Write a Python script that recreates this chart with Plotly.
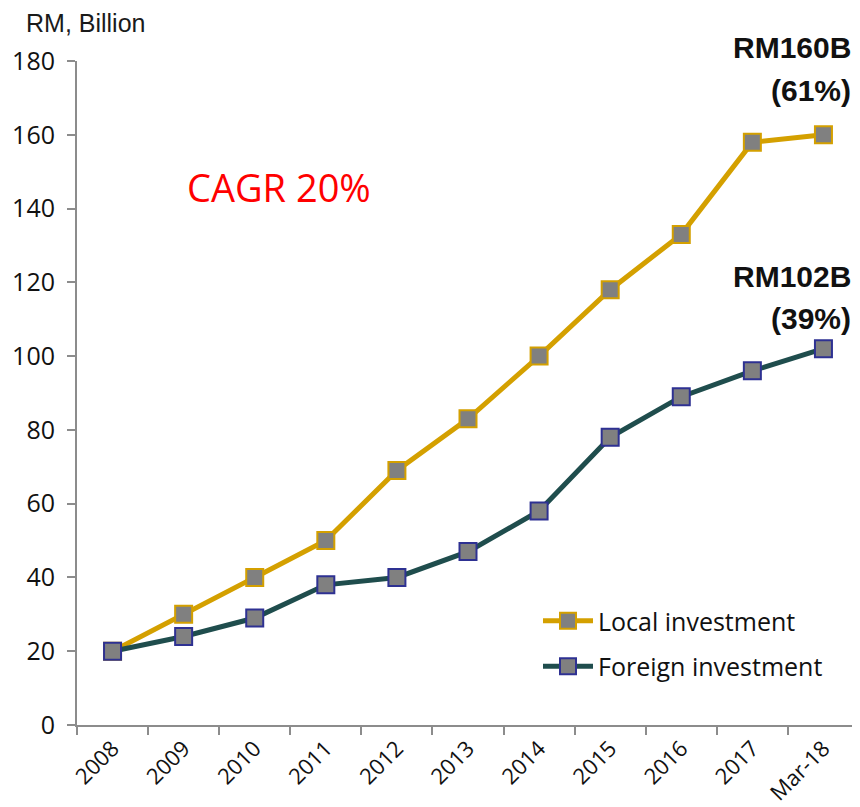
import plotly.graph_objects as go

categories = ["2008", "2009", "2010", "2011", "2012", "2013", "2014", "2015", "2016", "2017", "Mar-18"]
local_investment = [20, 30, 40, 50, 69, 83, 100, 118, 133, 158, 160]
foreign_investment = [20, 24, 29, 38, 40, 47, 58, 78, 89, 96, 102]
y_ticks = [0, 20, 40, 60, 80, 100, 120, 140, 160, 180]

GOLD = "#D4A000"
TEAL = "#1F4D4D"
NAVY = "#2E3192"
GRAY = "#808080"
AXIS = "#8C8C8C"

fig = go.Figure()
fig.add_trace(go.Scatter(
    x=categories, y=local_investment, name="Local investment", mode="lines+markers",
    legendgroup="local",
    line=dict(color=GOLD, width=5),
    marker=dict(symbol="square", size=17, color=GRAY, line=dict(color=GOLD, width=2)),
))
fig.add_trace(go.Scatter(
    x=categories, y=foreign_investment, name="Foreign investment", mode="lines+markers",
    legendgroup="foreign",
    line=dict(color=TEAL, width=5),
    marker=dict(symbol="square", size=17, color=GRAY, line=dict(color=NAVY, width=2)),
))

# page offset from default body margin
OFF = 8
# desired plot area in screen pixels
X0, X1, Y0, Y1 = 77, 859, 61, 725
W, H = 860 - OFF, 807 - OFF
L, R, T, B = X0 - OFF, 860 - X1, Y0 - OFF, 807 - Y1
pw, ph = X1 - X0, Y1 - Y0

def px(x):
    return (x - X0) / pw

def py(y):
    return (Y1 - y) / ph

annotations = [
    dict(text="RM, Billion", x=px(24), y=py(23), xanchor="left", yanchor="middle",
         font=dict(family="Liberation Sans, Arial", size=25, color="#1a1a1a")),
    dict(text="<b>RM160B</b>", x=px(853), y=py(48), xanchor="right", yanchor="middle",
         font=dict(family="Liberation Sans, Arial", size=30, color="#111")),
    dict(text="<b>(61%)</b>", x=px(853), y=py(90), xanchor="right", yanchor="middle",
         font=dict(family="Liberation Sans, Arial", size=30, color="#111")),
    dict(text="<b>RM102B</b>", x=px(853), y=py(276), xanchor="right", yanchor="middle",
         font=dict(family="Liberation Sans, Arial", size=30, color="#111")),
    dict(text="<b>(39%)</b>", x=px(853), y=py(318), xanchor="right", yanchor="middle",
         font=dict(family="Liberation Sans, Arial", size=30, color="#111")),
    dict(text="CAGR 20%", x=px(279), y=py(187), xanchor="center", yanchor="middle",
         font=dict(family="Open Sans", size=38, color="#FF0000")),
]
for a in annotations:
    a.update(xref="paper", yref="paper", showarrow=False)

fig.update_layout(
    width=W, height=H,
    margin=dict(l=L, r=R, t=T, b=B, autoexpand=False),
    paper_bgcolor="white", plot_bgcolor="white",
    font=dict(family="Open Sans", color="#111"),
    annotations=annotations,
    legend=dict(x=px(538), y=py(598), xanchor="left", yanchor="top",
                font=dict(family="Open Sans", size=25, color="#111"),
                bgcolor="rgba(0,0,0,0)", itemwidth=50, tracegroupgap=10),
    xaxis=dict(
        type="category", categoryorder="array", categoryarray=categories,
        range=[-0.5, len(categories) - 0.5], automargin=False,
        tickson="boundaries", ticks="outside", ticklen=8, tickwidth=2, tickcolor=AXIS,
        showline=True, linecolor=AXIS, linewidth=2, showgrid=False,
        tickangle=-45, tickfont=dict(family="Open Sans", size=22, color="#111"),
    ),
    yaxis=dict(
        range=[0, 180], tickvals=y_ticks, ticks="outside", ticklen=8, tickwidth=2, tickcolor=AXIS,
        showline=True, linecolor=AXIS, linewidth=2, showgrid=False, zeroline=False,
        automargin=False, ticklabelstandoff=7,
        tickfont=dict(family="Open Sans", size=25, color="#111"),
    ),
)

fig.write_html("out.html")
